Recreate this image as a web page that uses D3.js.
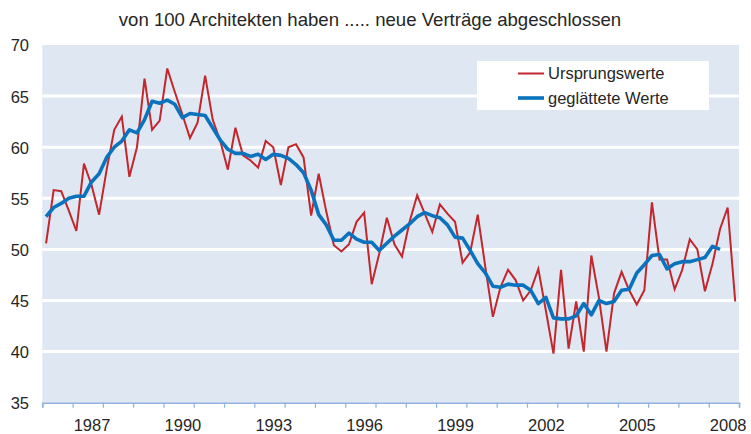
<!DOCTYPE html>
<html>
<head>
<meta charset="utf-8">
<script src="https://cdn.jsdelivr.net/npm/d3@7"></script>
<style>
  body { margin: 0; background: #fff; }
  text { font-family: "Liberation Sans", Arial, sans-serif; fill: #262626; }
</style>
</head>
<body>
<div id="chart"></div>
<script>
// Quartalswerte 1986 Q1 - 2008 Q4
var startYear = 1986;

var ursprung = [
  50.6, 55.8, 55.7, 53.8, 51.8, 58.4, 56.3, 53.4, 57.8, 61.7, 63.0, 57.1,
  60.0, 66.7, 61.7, 62.6, 67.7, 65.4, 63.2, 60.9, 62.4, 67.0, 62.7, 60.6,
  57.8, 61.9, 59.2, 58.7, 58.0, 60.6, 60.0, 56.3, 60.0, 60.3, 59.0, 53.3,
  57.4, 53.7, 50.4, 49.8, 50.5, 52.7, 53.6, 46.6, 49.6, 53.1, 50.5, 49.3,
  52.7, 55.3, 53.5, 51.7, 54.4, 53.5, 52.7, 48.7, 49.7, 53.4, 48.3, 43.4,
  46.3, 48.0, 47.0, 45.0, 46.0, 48.1, 44.0, 39.8, 48.0, 40.3, 44.9, 40.0,
  49.4, 45.3, 40.0, 45.7, 47.8, 46.0, 44.6, 46.0, 54.6, 49.0, 49.0, 46.1,
  48.0, 51.0, 50.0, 45.9, 48.6, 52.0, 54.1, 44.9
];

var geglaettet = [
  53.2, 54.1, 54.5, 55.0, 55.2, 55.2, 56.6, 57.4, 59.0, 60.0, 60.6, 61.7,
  61.4, 62.7, 64.5, 64.3, 64.6, 64.2, 62.9, 63.3, 63.2, 63.1, 61.9, 60.7,
  59.8, 59.4, 59.4, 59.1, 59.3, 58.8, 59.3, 59.2, 58.9, 58.3, 57.5, 55.8,
  53.4, 52.4, 50.9, 50.9, 51.6, 51.0, 50.7, 50.7, 49.9, 50.6, 51.3, 51.9,
  52.5, 53.2, 53.6, 53.3, 53.1, 52.4, 51.2, 51.1, 49.9, 48.6, 47.7, 46.4,
  46.3, 46.6, 46.5, 46.5, 46.0, 44.7, 45.3, 43.3, 43.2, 43.2, 43.5, 44.7,
  43.6, 45.0, 44.7, 44.9, 46.0, 46.1, 47.7, 48.5, 49.4, 49.5, 48.1, 48.6,
  48.8, 48.8, 49.0, 49.2, 50.3, 50.0
];

var yTicks = [35, 40, 45, 50, 55, 60, 65, 70];
var yearLabels = [1987, 1990, 1993, 1996, 1999, 2002, 2005, 2008];

var seriesNames = ["Ursprungswerte", "geglättete Werte"];
var colors = ["#c1272d", "#0b73bd"];

var fullwidth = 751, fullheight = 434;
var plot = { left: 42.3, right: 739, top: 45, bottom: 402.7 };

var svg = d3.select("#chart").append("svg")
  .attr("width", fullwidth)
  .attr("height", fullheight);

var quarters = d3.range(ursprung.length);

var xScale = d3.scaleBand()
  .domain(quarters)
  .range([plot.left, plot.right])
  .padding(0);

var yearScale = d3.scaleLinear()
  .domain([startYear, startYear + ursprung.length / 4])
  .range([plot.left, plot.right]);

var yScale = d3.scaleLinear()
  .domain([35, 70])
  .range([plot.bottom, plot.top]);

// hintergrund
svg.append("rect")
  .attr("x", plot.left)
  .attr("y", plot.top)
  .attr("width", plot.right - plot.left)
  .attr("height", plot.bottom - plot.top)
  .attr("fill", "#dfe7f2");

// gitterlinien
svg.append("g")
  .selectAll("line")
  .data(yTicks.filter(function(d) { return d > 35 && d < 70; }))
  .enter().append("line")
  .attr("x1", plot.left)
  .attr("x2", plot.right)
  .attr("y1", function(d) { return yScale(d); })
  .attr("y2", function(d) { return yScale(d); })
  .attr("stroke", "#fff")
  .attr("stroke-width", 3);

// y achse (nur beschriftung)
var yAxis = d3.axisLeft(yScale)
  .tickValues(yTicks)
  .tickSize(0)
  .tickPadding(0);

svg.append("g")
  .attr("class", "y axis")
  .attr("transform", "translate(29,0)")
  .call(yAxis)
  .call(function(g) { g.select(".domain").remove(); })
  .selectAll("text")
  .attr("dy", "0.36em")
  .style("font-size", "16.5px");

// x achse: striche an jahresgrenzen
var xTickAxis = d3.axisBottom(yearScale)
  .tickValues(d3.range(startYear, startYear + ursprung.length / 4 + 1))
  .tickSize(5)
  .tickFormat("");

svg.append("g")
  .attr("class", "x axis")
  .attr("transform", "translate(0," + plot.bottom + ")")
  .call(xTickAxis)
  .call(function(g) {
    g.select(".domain").attr("stroke", "#8fb2df").attr("stroke-width", 1.5);
    g.selectAll(".tick line").attr("stroke", "#8fb2df").attr("stroke-width", 1.2);
  });

// x beschriftung: jeweils beim 3. quartal
var xLabelAxis = d3.axisBottom(yearScale)
  .tickValues(yearLabels.map(function(y) { return y + 0.625; }))
  .tickSize(0)
  .tickPadding(17)
  .tickFormat(function(d) { return Math.floor(d); });

svg.append("g")
  .attr("transform", "translate(0," + plot.bottom + ")")
  .call(xLabelAxis)
  .call(function(g) { g.select(".domain").remove(); })
  .selectAll("text")
  .style("font-size", "16.5px");

// linien
var line = d3.line()
  .x(function(d, i) { return xScale(i) + xScale.bandwidth() / 2; })
  .y(function(d) { return yScale(d); });

svg.append("path")
  .datum(ursprung)
  .attr("fill", "none")
  .attr("stroke", colors[0])
  .attr("stroke-width", 2)
  .attr("d", line);

svg.append("path")
  .datum(geglaettet)
  .attr("fill", "none")
  .attr("stroke", colors[1])
  .attr("stroke-width", 3.6)
  .attr("stroke-linejoin", "round")
  .attr("d", line);

// titel
svg.append("text")
  .attr("x", 370)
  .attr("y", 26)
  .attr("text-anchor", "middle")
  .style("font-size", "18.6px")
  .text("von 100 Architekten haben ..... neue Verträge abgeschlossen");

// legende
var legend = svg.append("g").attr("transform", "translate(477,61)");

legend.append("rect")
  .attr("width", 232)
  .attr("height", 49)
  .attr("fill", "#fff");

var items = legend.selectAll("g.item")
  .data(seriesNames)
  .enter().append("g")
  .attr("class", "item")
  .attr("transform", function(d, i) { return "translate(0," + (12.5 + i * 24.5) + ")"; });

items.append("line")
  .attr("x1", 41)
  .attr("x2", 67)
  .attr("stroke", function(d, i) { return colors[i]; })
  .attr("stroke-width", function(d, i) { return i === 0 ? 2 : 3.6; });

items.append("text")
  .attr("x", 71)
  .attr("dy", "0.36em")
  .style("font-size", "16.5px")
  .text(function(d) { return d; });
</script>
</body>
</html>
